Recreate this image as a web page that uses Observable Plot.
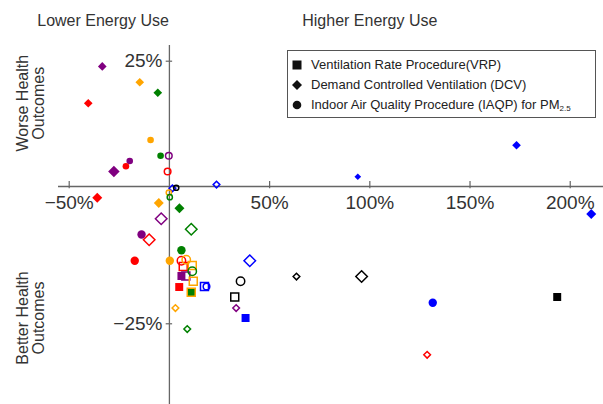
<!DOCTYPE html>
<html>
<head>
<meta charset="utf-8">
<script src="https://cdn.jsdelivr.net/npm/d3@7"></script>
<script src="https://cdn.jsdelivr.net/npm/@observablehq/plot@0.6"></script>
<style>
  body { margin: 0; background: #fff; font-family: "Liberation Sans", Arial, Helvetica, sans-serif; }
  #wrap { position: relative; width: 603px; height: 404px; overflow: hidden; }
  #wrap svg { position: absolute; left: 0; top: 0; }
  #legend { position: absolute; left: 287px; top: 50px; width: 307px; height: 66px;
            border: 1px solid #555; background: #fff; font-size: 13px; color: #222; }
  #legend .row { position: absolute; left: 0; height: 20px; line-height: 20px; white-space: nowrap; }
  #legend .row svg { position: absolute; left: 4px; top: 5px; }
  #legend .row span { position: absolute; left: 23px; top: 0; }
  #legend sub { font-size: 8px; vertical-align: -2px; line-height: 0; }
</style>
</head>
<body>
<div id="wrap">
  <div id="legend"></div>
</div>
<script>
// ---- data ----
// % change in energy use (x) and % change in health outcomes (y)
const energyUse = [
  -33.5, -14.8, -5.8, -40.5, -9.4, -4.4, -0.3, -19.8, -21.7, -27.7,
  -0.9, 23.5, 3.4, 1.5, 173.2, 94.0, -36.0, -0.3, 0.2, -5.3,
  5.0, -4.1, 10.9, -13.9, -10.1, 6.0, -17.3, 0.2, 40.1, 6.0,
  8.4, 6.9, 11.4, 11.4, 6.0, 8.2, 35.5, 63.4, 11.9, 4.9,
  17.5, 18.5, 10.9, 10.9, 32.6, 33.3, 38.0, 3.0, 8.9, 210.5,
  95.9, 131.4, 193.5, 128.6
];
const healthImpact = [
  24, 21, 19, 17, 10, 7, 7, 6, 5, 4,
  4, 1.5, 0.9, 0.8, 9, 3, -1, 0, -0.9, -2,
  -3, -5, -7, -8, -9, -11, -13, -13, -13, -13,
  -12.8, -14.1, -13.9, -15, -15.9, -15.9, -16.9, -16, -16.9, -18,
  -17.9, -17.9, -19, -19, -19.9, -22, -23.9, -22, -26, -4.1,
  -16, -21, -19.9, -30.9
];
const strategy = [
  "DCV", "DCV", "DCV", "DCV", "IAQP", "IAQP", "IAQP", "IAQP", "IAQP", "DCV",
  "IAQP", "DCV", "IAQP", "DCV", "DCV", "DCV", "DCV", "IAQP", "IAQP", "DCV",
  "DCV", "DCV", "DCV", "IAQP", "DCV", "IAQP", "IAQP", "IAQP", "DCV", "IAQP",
  "IAQP", "VRP", "VRP", "IAQP", "VRP", "VRP", "IAQP", "DCV", "VRP", "VRP",
  "VRP", "IAQP", "VRP", "VRP", "VRP", "DCV", "VRP", "DCV", "DCV", "DCV",
  "DCV", "IAQP", "VRP", "DCV"
];
const group = [
  "purple", "orange", "green", "red", "orange", "green", "purple", "purple", "red", "purple",
  "red", "blue", "black", "blue", "blue", "blue", "red", "orange", "green", "orange",
  "green", "purple", "green", "purple", "red", "green", "red", "orange", "blue", "red",
  "orange", "red", "orange", "green", "purple", "purple", "black", "black", "orange", "red",
  "blue", "blue", "green", "orange", "black", "purple", "blue", "orange", "green", "blue",
  "black", "blue", "black", "red"
];
const filled = [
  1, 1, 1, 1, 1, 1, 0, 1, 1, 1,
  0, 0, 0, 0, 1, 1, 1, 0, 0, 1,
  1, 0, 0, 1, 0, 1, 1, 1, 0, 0,
  0, 0, 0, 0, 1, 0, 0, 0, 0, 1,
  0, 0, 1, 0, 0, 0, 1, 0, 0, 1,
  0, 1, 1, 0
];
const markerClass = [
  "M", "M", "M", "M", "M", "M", "M", "M", "M", "XL",
  "M", "S", "S", "S", "M", "S", "L", "S", "S", "L",
  "L", "XL", "XL", "L", "XL", "L", "L", "L", "XL", "L",
  "L", "M", "M", "L", "M", "M", "L", "S", "M", "M",
  "M", "M", "M", "M", "M", "S", "M", "S", "S", "L",
  "XL", "L", "M", "S"
];
const strategies = ["VRP", "DCV", "IAQP"];
const strategyLabels = ["Ventilation Rate Procedure(VRP)", "Demand Controlled Ventilation (DCV)", "Indoor Air Quality Procedure (IAQP) for PM<sub>2.5</sub>"];
const groups = ["red", "orange", "green", "purple", "blue", "black"];
const groupColors = ["#e3191c", "#ef8527", "#2e8b1f", "#5e1188", "#1a1aff", "#111111"];
const xTicks = [-50, 50, 100, 150, 200];
const xTickLabels = ["\u221250%", "50%", "100%", "150%", "200%"];
const yTicks = [25, -25];
const yTickLabels = ["25%", "\u221225%"];

// ---- build rows ----
const rows = energyUse.map((x, i) => ({
  x, y: healthImpact[i], s: strategy[i], g: group[i], f: filled[i], c: markerClass[i]
}));

const symbolOf = {VRP: "square", DCV: "diamond2", IAQP: "circle"};
const radius = {
  VRP: {S: 4.5, M: 4.5, L: 4.5, XL: 4.5},
  DCV: {S: 3, M: 3.9, L: 4.5, XL: 5.2},
  IAQP: {S: 2.6, M: 3.3, L: 4.2, XL: 4.6}
};
const axisY = 1.14;     // where the horizontal axis crosses the vertical one
const axisColor = "#666";
const font = '"Liberation Sans", Arial, Helvetica, sans-serif';

const dotMarks = [];
for (const f of [1, 0]) {
  for (const s of strategies) {
    for (const c of ["S", "M", "L", "XL"]) {
      const sub = rows.filter(d => d.f === f && d.s === s && d.c === c);
      if (!sub.length) continue;
      dotMarks.push(Plot.dot(sub, f ? {
        x: "x", y: "y", symbol: () => symbolOf[s], fill: "g", r: radius[s][c], stroke: "none"
      } : {
        x: "x", y: "y", symbol: () => symbolOf[s], stroke: "g", fill: "none", r: radius[s][c], strokeWidth: 1.5
      }));
    }
  }
}

const chart = Plot.plot({
  width: 603,
  height: 404,
  marginLeft: 58,
  marginRight: 0,
  marginTop: 45,
  marginBottom: 0,
  x: {domain: [-55.34, 216.6], axis: null},
  y: {domain: [-40.37, 27.99], axis: null},
  color: {domain: groups, range: groupColors},
  symbol: {domain: ["square", "diamond2", "circle"], range: ["square", "diamond2", "circle"]},
  style: {fontFamily: font, background: "transparent", overflow: "visible"},
  marks: [
    Plot.ruleY([axisY], {stroke: axisColor, strokeWidth: 1.3}),
    Plot.ruleX([0], {stroke: axisColor, strokeWidth: 1.3}),
    Plot.ruleX(xTicks, {x: d => d, y1: axisY - 0.45, y2: axisY + 0.95, stroke: axisColor, strokeWidth: 1.2}),
    Plot.ruleY(yTicks, {y: d => d, x1: -1.6, x2: 1.6, stroke: axisColor, strokeWidth: 1.2}),
    Plot.text(xTicks, {x: d => d, y: axisY, dy: 16, text: (d, i) => xTickLabels[i], fontSize: 19, fill: "#333"}),
    Plot.text(yTicks, {x: 0, y: d => d, dx: -7, textAnchor: "end", text: (d, i) => yTickLabels[i], fontSize: 19, fill: "#333"}),
    Plot.text(["Lower Energy Use"], {x: -33.1, frameAnchor: "top", dy: -25, lineAnchor: "middle", textAnchor: "middle", text: d => d, fontSize: 16, fill: "#333"}),
    Plot.text(["Higher Energy Use"], {x: 100, frameAnchor: "top", dy: -25, lineAnchor: "middle", textAnchor: "middle", text: d => d, fontSize: 16, fill: "#333"}),
    Plot.text(["Worse Health\nOutcomes"], {y: 17.0, frameAnchor: "left", dx: -28, rotate: -90, textAnchor: "middle", lineAnchor: "middle", text: d => d, fontSize: 16, lineHeight: 1.0, fill: "#333"}),
    Plot.text(["Better Health\nOutcomes"], {y: -23.9, frameAnchor: "left", dx: -28, rotate: -90, textAnchor: "middle", lineAnchor: "middle", text: d => d, fontSize: 16, lineHeight: 1.0, fill: "#333"}),
    ...dotMarks
  ]
});

const wrap = document.getElementById("wrap");
wrap.insertBefore(chart, wrap.firstChild);

// ---- legend ----
const legend = document.getElementById("legend");
const legendSymbols = {
  VRP: '<rect x="0.5" y="0.5" width="9" height="9" fill="#111"/>',
  DCV: '<path d="M5,0 L10,5 L5,10 L0,5Z" fill="#111"/>',
  IAQP: '<circle cx="5" cy="5" r="4.3" fill="#111"/>'
};
strategies.forEach((s, i) => {
  const row = document.createElement("div");
  row.className = "row";
  row.style.top = (4 + i * 20) + "px";
  row.innerHTML = `<svg width="10" height="10" viewBox="0 0 10 10">${legendSymbols[s]}</svg><span>${strategyLabels[i]}</span>`;
  legend.appendChild(row);
});
</script>
</body>
</html>
